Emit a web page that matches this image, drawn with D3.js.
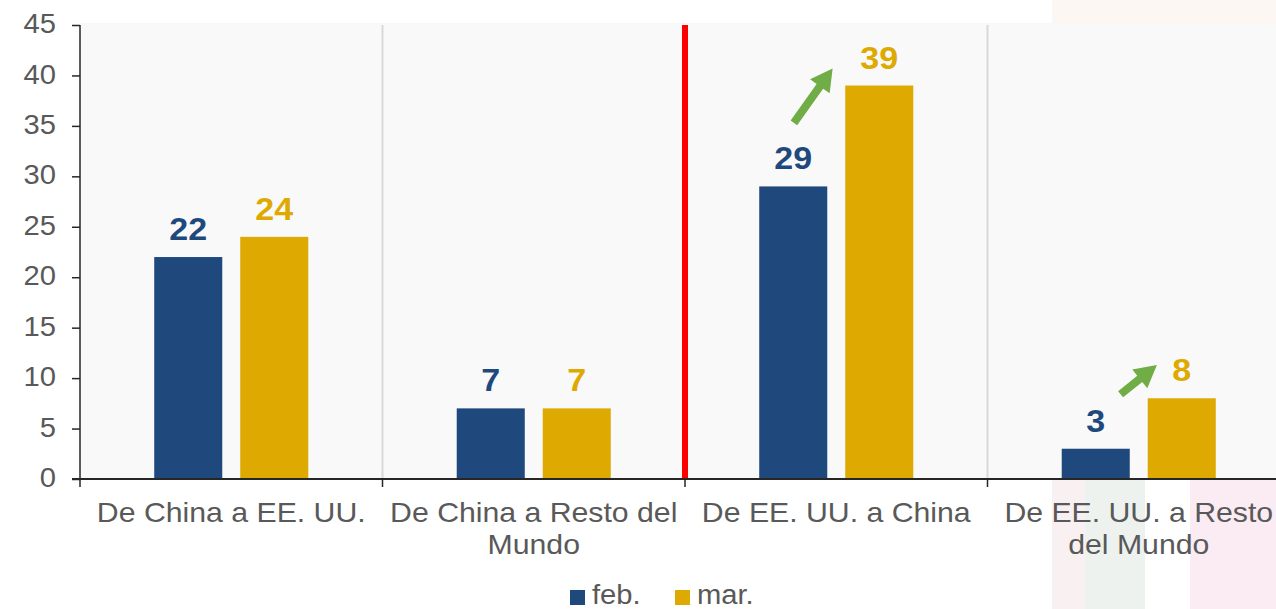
<!DOCTYPE html>
<html>
<head>
<meta charset="utf-8">
<script src="https://cdn.jsdelivr.net/npm/d3@7"></script>
<style>
  html, body { margin: 0; padding: 0; background: #ffffff; overflow: hidden; }
  svg { display: block; font-family: "Liberation Sans", Arial, sans-serif; }
</style>
</head>
<body>
<svg id="chart" width="1276" height="609"></svg>
<script>
// ---- data ----
const categories = ["De China a EE. UU.", "De China a Resto del Mundo", "De EE. UU. a China", "De EE. UU. a Resto del Mundo"];
const categoryLines = [["De China a EE. UU."], ["De China a Resto del", "Mundo"], ["De EE. UU. a China"], ["De EE. UU. a Resto", "del Mundo"]];
const seriesNames = ["feb.", "mar."];
const febValues = [22, 7, 29, 3];
const marValues = [24, 7, 39, 8];
const yTicks = [0, 5, 10, 15, 20, 25, 30, 35, 40, 45];
const titleText = "(en porcentaje)";
// arrow annotations: category, offset within band (fraction of band), value
const arrowStarts = [["De EE. UU. a China", -0.14, 35.3], ["De EE. UU. a Resto del Mundo", -0.06, 8.4]];
const arrowEnds   = [["De EE. UU. a China", -0.012, 40.7], ["De EE. UU. a Resto del Mundo", 0.06, 11.3]];

const colors = {"feb.": "#1F497D", "mar.": "#DEA900"};
const SX = 1.08; // horizontal text stretch

const svg = d3.select("#chart");
const W = 1276, H = 609;

// faint watermark stripes on the right
const wm = svg.append("g");
wm.append("rect").attr("x", 1052).attr("y", 0).attr("width", 224).attr("height", 23).attr("fill", "#fdf7f3");
wm.append("rect").attr("x", 1052).attr("y", 480).attr("width", 33).attr("height", 129).attr("fill", "#f8f0f1");
wm.append("rect").attr("x", 1085).attr("y", 480).attr("width", 60).attr("height", 129).attr("fill", "#edf2ef");
wm.append("rect").attr("x", 1190).attr("y", 480).attr("width", 86).attr("height", 129).attr("fill", "#fbecf3");

const x0 = d3.scaleBand().domain(categories).range([80, 1290]).paddingInner(0).paddingOuter(0);
const x1 = d3.scaleBand().domain(seriesNames).range([0, x0.bandwidth()]).paddingInner(0.209).paddingOuter(0.863);
const y = d3.scaleLinear().domain([0, 45]).range([479, 25]);

// plot background
svg.append("rect").attr("x", 80).attr("y", 23).attr("width", W - 80).attr("height", y(0) - 23).attr("fill", "#f9f9f9");

// title (cut off at top, as in the reference)
svg.append("text").attr("transform", `translate(684,-5) scale(${SX},1)`).attr("text-anchor", "middle")
  .attr("font-size", 26.5).attr("font-weight", "bold").attr("fill", "#404040").text(titleText);

// vertical separators
const seps = categories.slice(1).map(c => x0(c));
svg.append("g").selectAll("line").data(seps).join("line")
  .attr("x1", d => d).attr("x2", d => d).attr("y1", 25).attr("y2", y(0))
  .attr("stroke", (d, i) => i === 1 ? "#FF0000" : "#d9d9d9")
  .attr("stroke-width", (d, i) => i === 1 ? 6 : 2);

// bars
const rows = categories.map((c, i) => ({cat: c, vals: [["feb.", febValues[i]], ["mar.", marValues[i]]]}));
const groups = svg.append("g").selectAll("g").data(rows).join("g").attr("transform", d => `translate(${x0(d.cat)},0)`);
groups.selectAll("rect").data(d => d.vals).join("rect")
  .attr("x", d => x1(d[0])).attr("width", x1.bandwidth())
  .attr("y", d => y(d[1])).attr("height", d => y(0) - y(d[1]))
  .attr("fill", d => colors[d[0]]);
groups.selectAll("text").data(d => d.vals).join("text")
  .attr("transform", d => `translate(${x1(d[0]) + x1.bandwidth() / 2},${y(d[1]) - 17}) scale(${SX},1)`)
  .attr("text-anchor", "middle").attr("font-size", 31.5).attr("font-weight", "bold")
  .attr("fill", d => colors[d[0]]).text(d => d[1]);

// arrows
function arrowPath(p0, p1, sw, hl, hw) {
  const dx = p1[0] - p0[0], dy = p1[1] - p0[1];
  const L = Math.hypot(dx, dy), ux = dx / L, uy = dy / L, nx = -uy, ny = ux;
  const bx = p1[0] - ux * hl, by = p1[1] - uy * hl;
  const pts = [
    [p0[0] + nx * sw / 2, p0[1] + ny * sw / 2],
    [bx + nx * sw / 2, by + ny * sw / 2],
    [bx + nx * hw, by + ny * hw],
    p1,
    [bx - nx * hw, by - ny * hw],
    [bx - nx * sw / 2, by - ny * sw / 2],
    [p0[0] - nx * sw / 2, p0[1] - ny * sw / 2]
  ];
  return "M" + pts.map(p => p.join(",")).join("L") + "Z";
}
const pt = a => [x0(a[0]) + x0.bandwidth() / 2 + a[1] * x0.bandwidth(), y(a[2])];
svg.append("g").selectAll("path").data(arrowStarts.map((s, i) => [pt(s), pt(arrowEnds[i])])).join("path")
  .attr("d", d => arrowPath(d[0], d[1], 8, 22, 12)).attr("fill", "#70AD47");

// y axis
const yAxis = svg.append("g").attr("transform", "translate(80,0)")
  .call(d3.axisLeft(y).tickValues(yTicks).tickSize(8).tickSizeOuter(0));
yAxis.select(".domain").attr("stroke", "#262626").attr("stroke-width", 1.5).attr("d", `M0,${y(45)}V${y(0) + 8}`);
yAxis.selectAll(".tick line").attr("stroke", "#262626").attr("stroke-width", 1.5);
yAxis.selectAll(".tick text").attr("x", null).attr("transform", `translate(-24,-1) scale(${SX},1)`)
  .attr("font-size", 27).attr("fill", "#595959").attr("font-family", "Liberation Sans, Arial, sans-serif");

// x axis
svg.append("line").attr("x1", 72).attr("x2", W).attr("y1", y(0)).attr("y2", y(0)).attr("stroke", "#262626").attr("stroke-width", 2);
svg.append("g").selectAll("line").data(seps).join("line")
  .attr("x1", d => d).attr("x2", d => d).attr("y1", y(0)).attr("y2", y(0) + 8)
  .attr("stroke", "#262626").attr("stroke-width", 1.5);

// category labels
const cl = svg.append("g").selectAll("g").data(categories).join("g")
  .attr("transform", d => `translate(${x0(d) + x0.bandwidth() / 2},0)`);
cl.each(function (d, i) {
  d3.select(this).selectAll("text").data(categoryLines[i]).join("text")
    .attr("transform", (t, j) => `translate(0,${522 + j * 32}) scale(${SX},1)`)
    .attr("text-anchor", "middle").attr("font-size", 28).attr("fill", "#595959").text(t => t);
});

// legend
const legX = [570, 675];
const lg = svg.append("g").selectAll("g").data(seriesNames).join("g")
  .attr("transform", (d, i) => `translate(${legX[i]},0)`);
lg.append("rect").attr("x", 0).attr("y", 590).attr("width", 15).attr("height", 15).attr("fill", d => colors[d]);
lg.append("text").attr("transform", `translate(22,604) scale(${SX},1)`).attr("font-size", 27).attr("fill", "#595959").text(d => d);
</script>
</body>
</html>
